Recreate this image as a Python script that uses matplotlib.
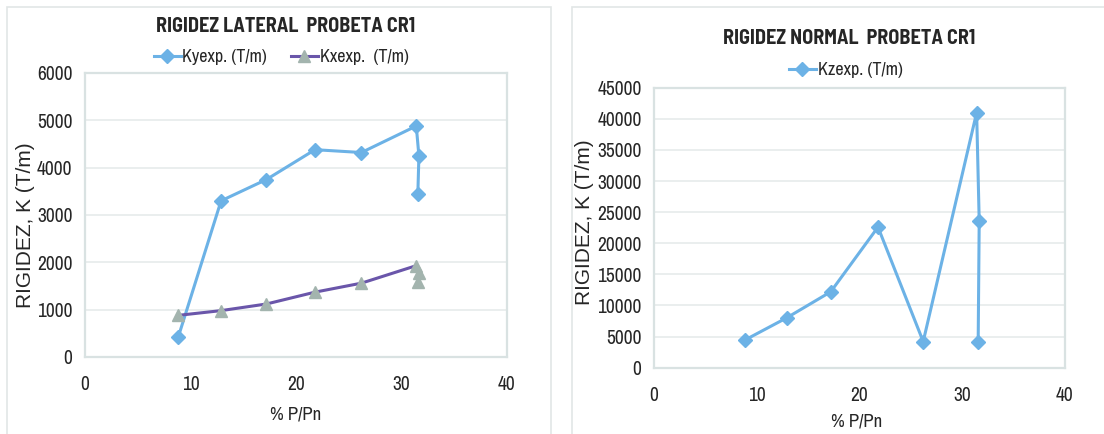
import matplotlib
matplotlib.use("Agg")
import matplotlib.pyplot as plt
from matplotlib.patches import Rectangle

plt.rcParams['font.family'] = ['Archivo Narrow', 'Barlow Semi Condensed', 'DejaVu Sans']
TITLE_FONT = ['Barlow Semi Condensed', 'Archivo Narrow', 'DejaVu Sans']
YLABEL_FONT = ['Liberation Sans', 'DejaVu Sans']

# % P/Pn for each load step
p_pn = [8.85, 12.9, 17.2, 21.8, 26.2, 31.4, 31.65, 31.55]
# lateral stiffness (T/m)
ky_exp = [430, 3300, 3750, 4380, 4320, 4880, 4250, 3450]
kx_exp = [880, 980, 1120, 1370, 1560, 1930, 1770, 1580]
# normal stiffness (T/m)
kz_exp = [4450, 8000, 12200, 22600, 4200, 41000, 23600, 4200]

x_ticks = [0, 10, 20, 30, 40]
y_ticks_lat = [0, 1000, 2000, 3000, 4000, 5000, 6000]
y_ticks_norm = list(range(0, 45001, 5000))

BLUE = '#6cb2e6'
PURPLE = '#6a56aa'
GREYTRI = '#a3b4ae'
GRID = '#e4eaea'
FRAME = '#d9e2e2'
TXT = '#262626'
FS = 14

W, H = 1104, 434
fig = plt.figure(figsize=(W / 100, H / 100), dpi=100)


def fx(px):
    return px / W


def fy(py):
    return 1 - py / H


# panel outlines
for (x0, x1) in [(7, 551), (572, 1110)]:
    fig.add_artist(Rectangle((fx(x0), -0.05), fx(x1 - x0), fy(7) + 0.05,
                             transform=fig.transFigure, fill=False,
                             edgecolor='#e2e6e6', lw=1.2))


def style(ax, yticks):
    ax.set_xlim(0, 40)
    ax.set_ylim(yticks[0], yticks[-1])
    ax.set_xticks(x_ticks)
    ax.set_yticks(yticks)
    ax.grid(axis='y', color=GRID, lw=1.1)
    ax.set_axisbelow(True)
    for s in ax.spines.values():
        s.set_color(FRAME)
        s.set_linewidth(1.6)
    ax.tick_params(length=0, labelsize=FS, colors=TXT)
    ax.tick_params(axis='x', pad=13)
    ax.tick_params(axis='y', pad=9)


# lateral stiffness
ax1 = fig.add_axes([fx(85), fy(357), fx(507 - 85), (357 - 73) / H])
style(ax1, y_ticks_lat)
l_ky, = ax1.plot(p_pn, ky_exp, color=BLUE, lw=2.2, marker='D', ms=7,
                 mfc=BLUE, mec=BLUE)
l_kx, = ax1.plot(p_pn, kx_exp, color=PURPLE, lw=2.2, marker='^', ms=8.5,
                 mfc=GREYTRI, mec=GREYTRI)
ax1.set_xlabel('% P/Pn', fontsize=13.5, color=TXT)
ax1.xaxis.set_label_coords(0.498, -0.175)
ax1.set_ylabel('RIGIDEZ, K (T/m)', fontsize=15, color=TXT, family=YLABEL_FONT)
ax1.yaxis.set_label_coords(-0.118, 0.465)
fig.text(fx(286), fy(27), 'RIGIDEZ LATERAL  PROBETA CR1', family=TITLE_FONT,
         fontsize=14.5, fontweight='bold', color=TXT, ha='center', va='center')
fig.legend([l_ky, l_kx], ['Kyexp. (T/m)', 'Kxexp.  (T/m)'], loc='center',
           bbox_to_anchor=(fx(281), fy(57)), ncol=2, frameon=False,
           fontsize=13, handlelength=1.5, handletextpad=0.1, columnspacing=1.3,
           labelcolor=TXT)

# normal stiffness
ax2 = fig.add_axes([fx(654), fy(367.7), fx(1065 - 654), (367.7 - 87.7) / H])
style(ax2, y_ticks_norm)
l_kz, = ax2.plot(p_pn, kz_exp, color=BLUE, lw=2.2, marker='D', ms=7,
                 mfc=BLUE, mec=BLUE)
ax2.set_xlabel('% P/Pn', fontsize=13.5, color=TXT)
ax2.xaxis.set_label_coords(0.494, -0.163)
ax2.set_ylabel('RIGIDEZ, K (T/m)', fontsize=15, color=TXT, family=YLABEL_FONT)
ax2.yaxis.set_label_coords(-0.145, 0.52)
fig.text(fx(849.5), fy(39), 'RIGIDEZ NORMAL  PROBETA CR1', family=TITLE_FONT,
         fontsize=14.5, fontweight='bold', color=TXT, ha='center', va='center')
fig.legend([l_kz], ['Kzexp. (T/m)'], loc='center',
           bbox_to_anchor=(fx(845.5), fy(70)), frameon=False,
           fontsize=13, handlelength=1.5, handletextpad=0.1, labelcolor=TXT)

fig.savefig('out.png', dpi=100, facecolor='white')
